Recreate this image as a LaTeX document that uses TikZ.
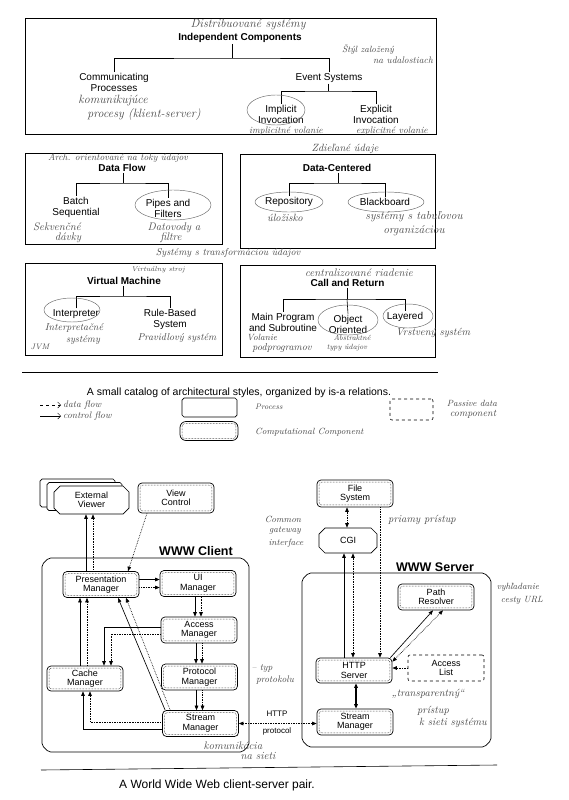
\documentclass[tikz,border=0pt]{standalone}
\usepackage{fontspec}
\newfontfamily\helv{Liberation Sans}
\usetikzlibrary{shapes.misc, arrows.meta, calc}

\begin{document}
\begin{tikzpicture}[
    x=1pt, y=-1pt,
    >={Triangle[length=4.5pt,width=3.6pt]},
    frame/.style={draw, line width=0.6pt},
    tree/.style={draw, line width=0.6pt},
    cat/.style={font=\helv\fontsize{10}{11}\selectfont, align=center, inner sep=1pt},
    cathead/.style={font=\helv\bfseries\fontsize{10}{11}\selectfont, inner sep=1pt},
    pen/.style={inner sep=0pt, text=black!72, font=\itshape\fontsize{#1}{#1}\selectfont},
    pen/.default=10,
    circled/.style={draw=black!60, line width=0.45pt},
    box/.style={font=\helv\fontsize{9}{9.5}\selectfont, align=center, minimum width=76pt, minimum height=26pt, inner sep=1pt, fill=white},
    proc/.style={box, draw, line width=0.7pt, chamfered rectangle, chamfered rectangle xsep=3pt, chamfered rectangle ysep=3pt},
    comp/.style={box, draw, line width=0.7pt, rounded corners=4pt},
    passive/.style={box, draw, dashed, line width=0.6pt, rounded corners=2pt},
    bigbox/.style={draw, line width=0.7pt, chamfered rectangle, chamfered rectangle xsep=7pt, chamfered rectangle ysep=7pt, rounded corners=2pt},
    title/.style={font=\helv\bfseries\fontsize{12.5}{14}\selectfont, inner sep=0pt},
    innerline/.style={draw, densely dotted, line width=0.5pt, rounded corners=2.5pt},
    ctrl/.style={draw, line width=0.65pt, ->},
    data/.style={draw, line width=0.65pt, densely dotted, ->},
    small/.style={font=\helv\fontsize{8}{9}\selectfont, inner sep=0pt}
  ]
  \useasboundingbox (0,0) rectangle (568,800);

  % catalog frames
  \draw[frame] (25,18) rectangle (436,134);
  \draw[frame] (25,153) rectangle (222,244);
  \draw[frame] (240,154) rectangle (435,248);
  \draw[frame] (25,263) rectangle (222,355);
  \draw[frame] (240,265) rectangle (435,357);

  % independent components
  \node[cathead] (indep) at (240,38) {Independent Components};
  \node[cat] (comm) at (114,82) {Communicating\\Processes};
  \node[cat] (evsys) at (329,78) {Event Systems};
  \node[cat] (impl) at (281,114) {Implicit\\Invocation};
  \node[cat] (expl) at (376,114.5) {Explicit\\Invocation};
  \coordinate (icbar) at (232,58);
  \draw[tree] (indep.south -| icbar) -- (icbar);
  \draw[tree] (comm.north) |- (icbar) -| (evsys.north);
  \coordinate (esbar) at (328,91);
  \draw[tree] (evsys.south -| esbar) -- (esbar);
  \draw[tree] (impl.north) |- (esbar) -| (expl.north);
  \draw[circled] (276,110) ellipse (29 and 15);

  % data flow
  \node[cathead] (dflow) at (122,168) {Data Flow};
  \node[cat] (batch) at (76,207) {Batch\\Sequential};
  \node[cat] (pipes) at (168,208) {Pipes and\\Filters};
  \coordinate (dfbar) at (123,183);
  \draw[tree] (dflow.south -| dfbar) -- (dfbar);
  \draw[tree] (batch.north) |- (dfbar) -| (pipes.north);
  \draw[circled] (173,205) ellipse (38 and 15);

  % data-centered
  \node[cathead] (dcent) at (337,168) {Data-Centered};
  \node[cat] (repo) at (289,202) {Repository};
  \node[cat] (black) at (385,202) {Blackboard};
  \coordinate (dcbar) at (338,183);
  \draw[tree] (dcent.south -| dcbar) -- (dcbar);
  \draw[tree] (repo.north) |- (dcbar) -| (black.north);
  \draw[circled] (289,202) ellipse (34 and 10);
  \draw[circled] (386,202) ellipse (38 and 10);

  % virtual machine
  \node[cathead] (vm) at (124,281) {Virtual Machine};
  \node[cat] (interp) at (76,314) {Interpreter};
  \node[cat] (rule) at (170,319.5) {Rule-Based\\System};
  \coordinate (vmbar) at (123,296);
  \draw[tree] (vm.south -| vmbar) -- (vmbar);
  \draw[tree] (interp.north) |- (vmbar) -| (rule.north);
  \draw[circled] (72,310) ellipse (28 and 12);

  % call and return
  \node[cathead] (car) at (347.5,283) {Call and Return};
  \node[cat] (mainp) at (283,322) {Main Program\\and Subroutine};
  \node[cat] (oo) at (348,324) {Object\\Oriented};
  \node[cat] (layer) at (405,317) {Layered};
  \coordinate (crbar) at (347,299);
  \draw[tree] (car.south -| crbar) -- (crbar);
  \draw[tree] (mainp.north) |- (crbar) -| (layer.north);
  \draw[tree] (crbar) -- (oo.north);
  \draw[circled] (348,320) ellipse (30 and 15);
  \draw[circled] (408,316) ellipse (25 and 12);

  % handwritten notes, catalog
  \node[pen=12] (nDist) at (248,25) {Distribuované systémy};
  \node[pen=9] (nEvt1) at (368,50) {Štýl založený};
  \node[pen=9.5] (nEvt2) at (403,60) {na udalostiach};
  \node[pen=12] (nComm1) at (113,101) {komunikujúce};
  \node[pen=12] (nComm2) at (144,115) {procesy (klient-server)};
  \node[pen=9.5] (nImpl) at (286,131) {implicitné volanie};
  \node[pen=9.5] (nExpl) at (392,131) {explicitné volanie};
  \node[pen=9.5] (nDf) at (118,158) {Arch. orientované na toky údajov};
  \node[pen=11] (nBatch1) at (57,227) {Sekvenčné};
  \node[pen=11] (nBatch2) at (68,238) {dávky};
  \node[pen=11] (nPipe1) at (174,228) {Datovody a};
  \node[pen=11] (nPipe2) at (171,238) {filtre};
  \node[pen=10.5] (nDc) at (345,149) {Zdieľané údaje};
  \node[pen=10.5] (nRepo) at (285,218) {úložisko};
  \node[pen=11.5] (nBb1) at (414,217) {systémy s tabuľovou};
  \node[pen=11.5] (nBb2) at (414,231) {organizáciou};
  \node[pen=10] (nTrans) at (228,253) {Systémy s transformáciou údajov};
  \node[pen=7] (nVm) at (158,270) {Virtuálny stroj};
  \node[pen=10] (nInt1) at (74,328) {Interpretačné};
  \node[pen=10] (nInt2) at (83,340) {systémy};
  \node[pen=8] (nJvm) at (40,347) {JVM};
  \node[pen=10] (nRule) at (177,338) {Pravidlový systém};
  \node[pen=11] (nCr) at (359,273) {centralizované riadenie};
  \node[pen=9] (nMain1) at (262,337) {Volanie};
  \node[pen=10] (nMain2) at (282,348) {podprogramov};
  \node[pen=7.5] (nOo1) at (352,338) {Abstraktné};
  \node[pen=7.5] (nOo2) at (347,348) {typy údajov};
  \node[pen=10.5] (nLay) at (433,333) {Vrstvený systém};

  % separator and caption
  \draw[line width=0.6pt] (22,372) -- (438,372);
  \node[font=\helv\fontsize{10.5}{12}\selectfont, inner sep=0pt] (cap1) at (239,393) {A small catalog of architectural styles, organized by is-a relations.};

  % legend
  \node[pen=9.5, anchor=west] (lgdf) at (63,405) {data flow};
  \node[pen=9.5, anchor=west] (lgcf) at (63,416) {control flow};
  \draw[line width=0.5pt, dashed, -{Straight Barb[length=3pt]}] ([xshift=-23pt]lgdf.west) -- ([xshift=-2pt]lgdf.west);
  \draw[line width=0.5pt, -{Straight Barb[length=3pt]}] ([xshift=-23pt]lgcf.west) -- ([xshift=-2pt]lgcf.west);
  \node[proc, minimum width=55pt, minimum height=19pt] (lgproc) at (209.5,407.5) {};
  \node[pen=8, anchor=west] (lgproct) at (255,407) {Process};
  \node[comp, minimum width=58pt, minimum height=19pt, rounded corners=6pt] (lgcomp) at (209,431) {};
  \node[pen=9, anchor=west] (lgcompt) at (255,432) {Computational Component};
  \node[passive, minimum width=43pt, minimum height=21pt] (lgpass) at (411.5,409.5) {};
  \node[pen=9] (lgpass1) at (472,403) {Passive data};
  \node[pen=10] (lgpass2) at (473,414) {component};

  % WWW client and server frames
  \node[bigbox, minimum width=207pt, minimum height=194pt] (client) at (145.5,655) {};
  \node[bigbox, minimum width=189pt, minimum height=174pt] (server) at (396.5,660) {};
  \node[title] (clientlbl) at (196,551) {WWW Client};
  \node[title] (serverlbl) at (435,567) {WWW Server};

  % components
  \node[proc, minimum width=75pt, minimum height=28pt] (ev3) at (77.5,493) {};
  \node[proc, minimum width=75pt, minimum height=28pt] (ev2) at (84.5,496.5) {};
  \node[proc, minimum width=75pt, minimum height=28pt] (ev) at (91.5,500) {External\\Viewer};
  \node[comp, minimum height=30pt] (vc) at (176,498) {View\\Control};
  \node[comp] (pres) at (101,584.5) {Presentation\\Manager};
  \node[comp] (ui) at (198,583.5) {UI\\Manager};
  \node[comp] (acc) at (199,630) {Access\\Manager};
  \node[comp] (prot) at (199.5,677) {Protocol\\Manager};
  \node[comp] (strc) at (200.5,723.5) {Stream\\Manager};
  \node[comp, minimum height=25pt] (cache) at (85,678.5) {Cache\\Manager};
  \node[comp, minimum height=27pt] (fs) at (355,493.5) {File\\System};
  \node[proc, minimum width=58pt, minimum height=25pt] (cgi) at (348,540.5) {CGI};
  \node[comp] (pr) at (436,597) {Path\\Resolver};
  \node[comp, minimum height=25pt] (hs) at (354,670.5) {HTTP\\Server};
  \node[passive] (al) at (446,668) {Access\\List};
  \node[comp] (strs) at (355,722) {Stream\\Manager};

  \foreach \n in {vc,pres,ui,acc,prot,strc,cache,fs,pr,hs,strs,lgcomp}
    \draw[innerline] ([shift={(2.5pt,2.5pt)}]\n.south west) rectangle ([shift={(-2.5pt,-2.5pt)}]\n.north east);

  % client connectors
  \draw[ctrl] ([xshift=-15pt]pres.north) -- ([xshift=-15pt]pres.north |- ev.south);
  \draw[data] ([xshift=-8pt]pres.north) -- ([xshift=-8pt]pres.north |- ev.south);
  \draw[data] ([xshift=-29pt]vc.south) -- ([xshift=27pt]pres.north);
  \draw[ctrl] ([yshift=5pt]pres.east) -- ([yshift=5pt]pres.east -| ui.west);
  \draw[data] ([yshift=-3pt]pres.east) -- ([yshift=-3pt]pres.east -| ui.west);
  \foreach \a/\b in {ui/acc, acc/prot, prot/strc} {
    \draw[ctrl] ([xshift=-3pt]\a.south) -- ([xshift=-3pt]\a.south |- \b.north);
    \draw[data] ([xshift=3pt]\a.south) -- ([xshift=3pt]\a.south |- \b.north);
  }
  \draw[ctrl] ([yshift=3pt]acc.west) -| ([xshift=19pt]cache.north);
  \draw[data] ([yshift=-4pt]acc.west) -| ([xshift=26pt]cache.north);
  \draw[ctrl] ([xshift=-5pt]cache.north) -- ([xshift=-5pt]cache.north |- pres.south);
  \draw[data] ([xshift=2pt]cache.north) -- ([xshift=2pt]cache.north |- pres.south);
  \draw[ctrl] ([yshift=-5.5pt]strc.west) -| ([xshift=-2pt]cache.south);
  \draw[data] ([yshift=1.5pt]strc.west) -| ([xshift=5pt]cache.south);
  \draw[ctrl] ([xshift=3pt]strc.north west) -- ([xshift=17pt]pres.south);
  \draw[data] ([xshift=8pt]strc.north west) -- ([xshift=25pt]pres.south);

  % HTTP protocol
  \draw[data, <->] (strc.east) -- (strc.east -| strs.west);
  \node[small] (httplbl) at (277,714) {HTTP};
  \node[small] (protolbl) at (277,731) {protocol};

  % server connectors
  \draw[data, <->] ([xshift=-8pt]fs.south) -- ([xshift=-8pt]fs.south |- cgi.north);
  \draw[data] ([xshift=25pt]fs.south) -- ([xshift=25pt]fs.south |- hs.north);
  \draw[ctrl] ([xshift=-4pt]cgi.south |- hs.north) -- ([xshift=-4pt]cgi.south);
  \draw[data, <->] ([xshift=5pt]cgi.south) -- ([xshift=5pt]cgi.south |- hs.north);
  \draw[ctrl] ([xshift=-2pt]hs.north east) -- ([xshift=-3pt]pr.south);
  \draw[data, <->] ([yshift=-4pt]hs.north east) -- ([xshift=7pt]pr.south);
  \draw[data] (al.west) -- (al.west -| hs.east);
  \draw[ctrl, <->, line width=1.3pt] ([xshift=2pt]hs.south) -- ([xshift=2pt]hs.south |- strs.north);

  % handwritten notes, client-server
  \node[pen=9] (nCgi1) at (283,519) {Common};
  \node[pen=9] (nCgi2) at (285,531) {gateway};
  \node[pen=9] (nCgi3) at (286,543) {interface};
  \node[pen=10.5] (nFs) at (422,520) {priamy prístup};
  \node[pen=9] (nPr1) at (518,587) {vyhľadanie};
  \node[pen=9] (nPr2) at (522,600) {cesty URL};
  \node[pen=9.5] (nProt1) at (262,668) {-- typ};
  \node[pen=9.5] (nProt2) at (275,680) {protokolu};
  \node[pen=11] (nStr1) at (233,746) {komunikácia};
  \node[pen=11] (nStr2) at (258,756) {na sieti};
  \node[pen=10.5] (nHs1) at (428,694) {„transparentný“};
  \node[pen=10.5] (nHs2) at (433,711) {prístup};
  \node[pen=10.5] (nHs3) at (453,723) {k sieti systému};

  % separator and caption
  \draw[line width=0.6pt] (41,770) -- (497,765);
  \node[font=\helv\fontsize{12}{14}\selectfont, inner sep=0pt] (cap2) at (217,785) {A World Wide Web client-server pair.};
\end{tikzpicture}
\end{document}
